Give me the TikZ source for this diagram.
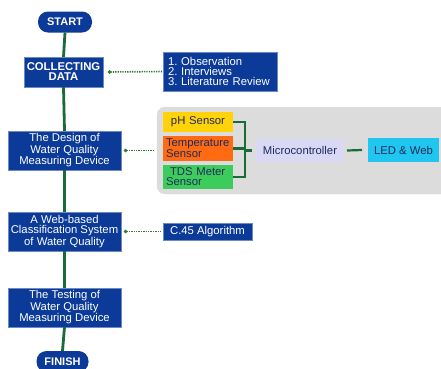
\documentclass[tikz,border=0pt]{standalone}
\usepackage{fontspec}
\setmainfont{Liberation Sans}
\usetikzlibrary{arrows.meta}
\definecolor{boxblue}{HTML}{0C3A98}
\definecolor{lgreen}{HTML}{1B6B3A}
\definecolor{dgreen}{HTML}{2E7D32}
\definecolor{ysens}{HTML}{FFD20A}
\definecolor{osens}{HTML}{FF6A12}
\definecolor{gsens}{HTML}{3DCB5C}
\definecolor{lav}{HTML}{D9D9F6}
\definecolor{cyanbox}{HTML}{1EC6F0}
\definecolor{panelgray}{HTML}{DCDCDC}
\definecolor{darktext}{HTML}{1E2B5C}
\frenchspacing
\begin{document}
\begin{tikzpicture}[x=1pt,y=-1pt,
  every node/.style={inner sep=0pt, outer sep=0pt, font=\fontsize{11.3}{10.2}\selectfont},
  bluebox/.style={fill=boxblue, draw=boxblue!60!white, line width=0.5pt, text=white, align=center, minimum width=113pt, minimum height=39pt},
  term/.style={fill=boxblue, text=white, font=\fontsize{11}{10}\selectfont\bfseries, rounded corners=10pt, minimum height=21pt},
  sens/.style={text=darktext, align=left, minimum width=70pt, text width=64pt, inner xsep=3pt},
  flow/.style={draw=lgreen, line width=2.8pt},
  dotc/.style={draw=dgreen, line width=1.6pt, dash pattern=on 1.3pt off 1.1pt, {Circle[length=3.2pt,fill=dgreen]}-},
  brk/.style={draw=lgreen, line width=2.2pt}
]
\useasboundingbox (0,0) rectangle (441,368);
\fill[white] (0,0) rectangle (441,368);

% panel
\node[fill=panelgray, draw=panelgray!80!white, rounded corners=8pt, minimum width=292pt, minimum height=87pt] (panel) at (303,150.5) {};

% main flow
\node[term, minimum width=54pt] (start) at (65,22) {START};
\node[bluebox, minimum width=79pt, minimum height=30pt, font=\fontsize{11.3}{10}\selectfont\bfseries] (collect) at (63.5,72) {COLLECTING\\DATA};
\node[bluebox] (design) at (64.5,150.5) {The Design of\\Water Quality\\Measuring Device};
\node[bluebox] (web) at (64.5,231.5) {A Web-based\\Classification System\\of Water Quality};
\node[bluebox] (test) at (64.5,307.5) {The Testing of\\Water Quality\\Measuring Device};
\node[term, minimum width=52pt] (finish) at (62.5,361.5) {FINISH};

% side boxes
\node[bluebox, align=left, minimum width=114pt, minimum height=39pt, text width=104pt] (list) at (220,71.5) {1. Observation\\2. Interviews\\3. Literature Review};
\node[bluebox, minimum width=89pt, minimum height=17pt] (algo) at (207.5,231.5) {C.45 Algorithm};

% sensors
\node[sens, fill=ysens, minimum height=20pt, align=center] (ph) at (198,122) {pH Sensor};
\node[sens, fill=osens, minimum height=25pt] (temp) at (198,148.5) {Temperature\\Sensor};
\node[sens, fill=gsens, minimum height=24pt] (tds) at (198,177) {\hspace*{4pt}TDS Meter\\Sensor};
\node[fill=lav, text=darktext, minimum width=88pt, minimum height=23pt] (micro) at (300,150.5) {Microcontroller};
\node[fill=cyanbox, text=darktext, minimum width=71pt, minimum height=24pt] (led) at (403.5,150) {LED \& Web};

% flow lines
\draw[flow] (start.south) -- (collect.north);
\draw[flow] (collect.south) -- (design.north);
\draw[flow] (design.south) -- (web.north);
\draw[flow] (web.south) -- (test.north);
\draw[flow] (test.south) -- (finish.north);

% dotted connectors
\draw[dotc] ([xshift=5pt]collect.east) -- (list.west);
\draw[dotc] ([xshift=3pt]design.east) -- ([xshift=-3pt]panel.west |- design.east);
\draw[dotc] ([xshift=3pt]web.east) -- ([xshift=-2pt]algo.west);

% bracket
\coordinate (bx) at (245,150.5);
\draw[brk] (ph.east) -| (bx |- ph.east) -- (bx |- tds.east) -- (tds.east);
\draw[brk] (temp.east) -- (bx |- temp.east);
\draw[brk] (bx) -- ([xshift=-4pt]micro.west);
\draw[brk] ([xshift=3pt]micro.east) -- ([xshift=-6pt]led.west);
\end{tikzpicture}
\end{document}
